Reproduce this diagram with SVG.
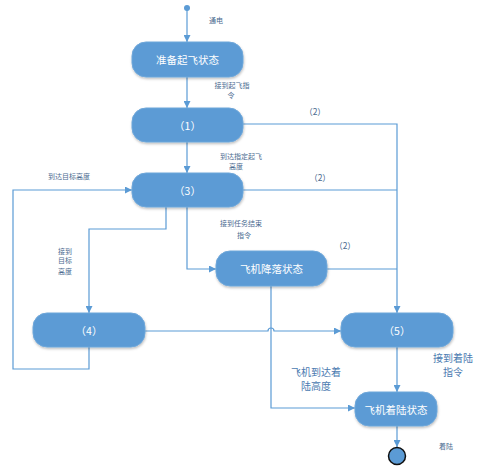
<svg xmlns="http://www.w3.org/2000/svg" width="490" height="470" viewBox="0 0 490 470">
<style>
.box{fill:#5b9bd5;stroke:#6fa7da;stroke-width:1}
.bt{fill:#ffffff;font-family:"Noto Sans CJK SC","Liberation Sans",sans-serif;font-size:10.5px;text-anchor:middle;dominant-baseline:central}
.ln{fill:none;stroke:#5b9bd5;stroke-width:1.2}
.sl{fill:#4a6a8f;font-family:"Noto Sans CJK SC","Liberation Sans",sans-serif;font-size:7px;text-anchor:middle}
.ml{fill:#4a6a8f;font-family:"Noto Sans CJK SC","Liberation Sans",sans-serif;font-size:8.5px;text-anchor:middle}
.ll{fill:#4a7ab0;font-family:"Noto Sans CJK SC","Liberation Sans",sans-serif;font-size:10px;text-anchor:middle}
</style>
<defs>
<marker id="ah" viewBox="0 0 10 10" refX="10" refY="5" markerWidth="7" markerHeight="7" markerUnits="userSpaceOnUse" orient="auto">
<path d="M0,0 L10,5 L0,10 z" fill="#5b9bd5"/>
</marker>
<filter id="sh" x="-10%" y="-20%" width="120%" height="150%">
<feDropShadow dx="0.5" dy="1.5" stdDeviation="1" flood-color="#000" flood-opacity="0.25"/>
</filter>
</defs>
<rect width="490" height="470" fill="#ffffff"/>
<g id="connectors">
<path class="ln" d="M187,10 V42" marker-end="url(#ah)"/>
<path class="ln" d="M187,77 V108" marker-end="url(#ah)"/>
<path class="ln" d="M187,142 V173" marker-end="url(#ah)"/>
<path class="ln" d="M243,124 H397 V313" marker-end="url(#ah)"/>
<path class="ln" d="M243,190 H397"/>
<path class="ln" d="M327,269 H397"/>
<path class="ln" d="M166,207 V229 H89 V313" marker-end="url(#ah)"/>
<path class="ln" d="M187,207 V269 H216" marker-end="url(#ah)"/>
<path class="ln" d="M89,347 V369 H13 V190 H132" marker-end="url(#ah)"/>
<path class="ln" d="M145,331 H268 A3,3 0 0 1 274,331 H341" marker-end="url(#ah)"/>
<path class="ln" d="M271,286 V408 H355" marker-end="url(#ah)"/>
<path class="ln" d="M397,347 V392" marker-end="url(#ah)"/>
<path class="ln" d="M397,426 V447" marker-end="url(#ah)"/>
</g>
<g id="start"><circle cx="187" cy="8" r="3" fill="#5b9bd5"/></g>
<g id="prep"><rect class="box" filter="url(#sh)" x="132" y="42" width="111" height="35" rx="14"/><text class="bt" x="187.5" y="59.5">准备起飞状态</text></g>
<g id="s1"><rect class="box" filter="url(#sh)" x="132" y="108" width="111" height="34" rx="14"/><text class="bt" x="187.5" y="125">（1）</text></g>
<g id="s3"><rect class="box" filter="url(#sh)" x="132" y="173" width="111" height="34" rx="14"/><text class="bt" x="187.5" y="190">（3）</text></g>
<g id="descend"><rect class="box" filter="url(#sh)" x="216" y="251" width="111" height="35" rx="14"/><text class="bt" x="271.5" y="268.5">飞机降落状态</text></g>
<g id="s4"><rect class="box" filter="url(#sh)" x="33" y="313" width="112" height="34" rx="14"/><text class="bt" x="89" y="330">（4）</text></g>
<g id="s5"><rect class="box" filter="url(#sh)" x="341" y="313" width="112" height="34" rx="14"/><text class="bt" x="397" y="330">（5）</text></g>
<g id="landing"><rect class="box" filter="url(#sh)" x="355" y="392" width="82" height="34" rx="14"/><text class="bt" x="396" y="409">飞机着陆状态</text></g>
<g id="end"><circle cx="397" cy="456" r="8.5" fill="#5b9bd5" stroke="#111" stroke-width="1.5"/></g>
<g id="labels">
<text class="sl" x="216" y="23">通电</text>
<text class="sl" x="232" y="88">接到起飞指</text>
<text class="sl" x="231" y="98">令</text>
<text class="sl" x="241" y="159">到达指定起飞</text>
<text class="sl" x="236" y="169">高度</text>
<text class="sl" x="69" y="179">到达目标高度</text>
<text class="sl" x="241" y="226">接到任务结束</text>
<text class="sl" x="244" y="238">指令</text>
<text class="sl" x="65" y="254">接到</text>
<text class="sl" x="65" y="263">目标</text>
<text class="sl" x="65" y="274">高度</text>
<text class="ml" x="315" y="115">（2）</text>
<text class="ml" x="320" y="181">（2）</text>
<text class="ml" x="345" y="249">（2）</text>
<text class="ll" x="453" y="362">接到着陆</text>
<text class="ll" x="453" y="376">指令</text>
<text class="ll" x="316" y="376">飞机到达着</text>
<text class="ll" x="316" y="390">陆高度</text>
<text class="sl" x="446" y="449">着陆</text>
</g>
</svg>
